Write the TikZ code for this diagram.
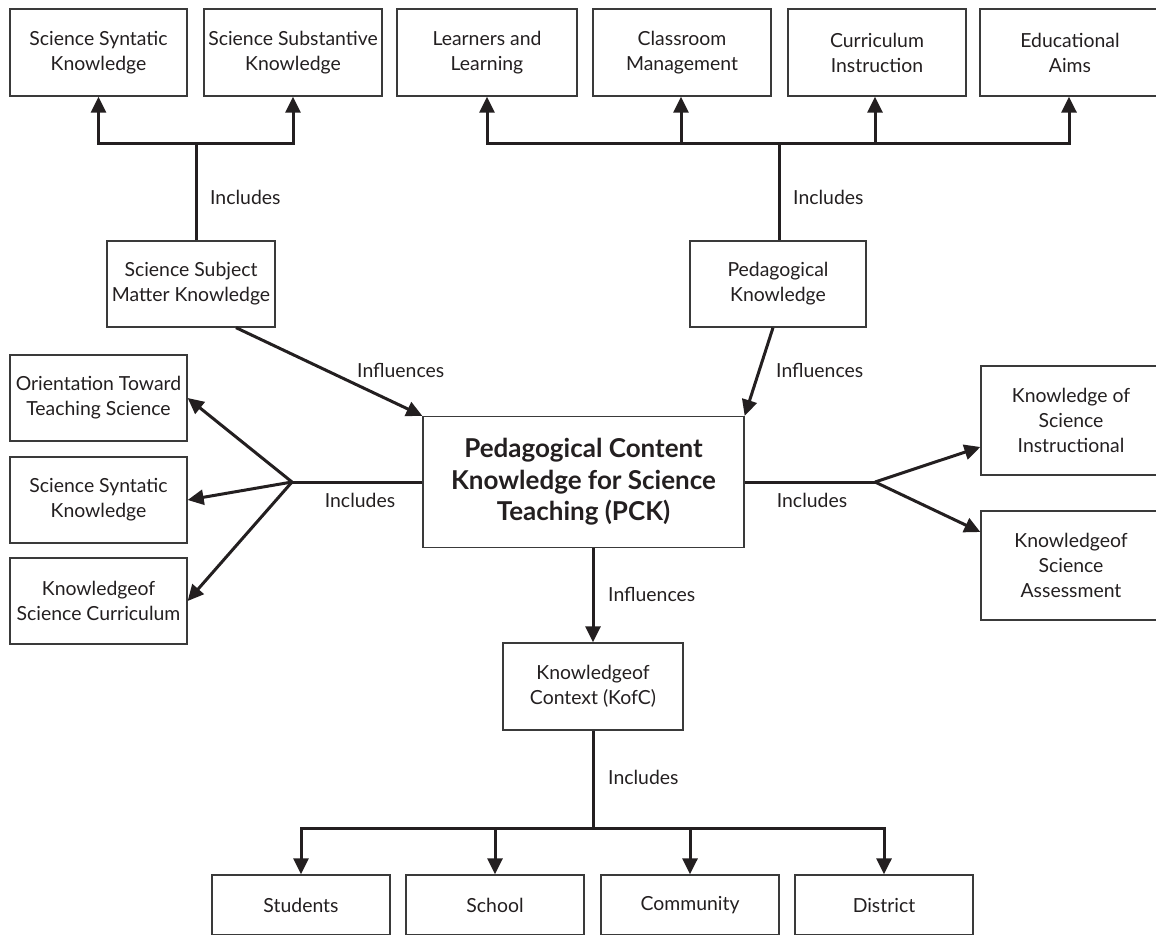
\documentclass[tikz,border=0pt]{standalone}
\usepackage{fontspec}
\setmainfont{Lato}
\usetikzlibrary{arrows.meta,calc}
\definecolor{ink}{HTML}{231F20}
\definecolor{edge}{HTML}{3A3A3A}
\begin{document}
\begin{tikzpicture}[x=1pt,y=-1pt,
  box/.style={draw=edge,line width=1.3pt,inner sep=0pt,align=center,text=ink,
    font=\fontsize{19.4}{25}\selectfont},
  lbl/.style={text=ink,inner sep=0pt,font=\fontsize{19.4}{25}\selectfont},
  conn/.style={draw=ink,line width=3pt},
  arr/.style={conn,-{Triangle[length=16pt,width=15pt]}},
]
\useasboundingbox (0,0) rectangle (1156,934);
% top row
\node[box,minimum width=177pt,minimum height=87pt] (b1) at (98.5,52.5) {Science Syntatic\\Knowledge};
\node[box,minimum width=178pt,minimum height=87pt] (b2) at (293,52.5) {Science Substantive\\Knowledge};
\node[box,minimum width=180pt,minimum height=87pt] (b3) at (487,52.5) {Learners and\\Learning};
\node[box,minimum width=178pt,minimum height=87pt] (b4) at (682,52.5) {Classroom\\Management};
\node[box,minimum width=178pt,minimum height=87pt] (b5) at (877,52.5) {Curriculum\\Instruction};
\node[box,minimum width=180pt,minimum height=87pt] (b6) at (1070,52.5) {Educational\\Aims};
% second row
\node[box,minimum width=168pt,minimum height=86pt] (ssmk) at (191,284) {Science Subject\\Matter Knowledge};
\node[box,minimum width=176pt,minimum height=86pt] (pk) at (778,284) {Pedagogical\\Knowledge};
% center
\node[box,minimum width=321pt,minimum height=131pt,font=\bfseries\fontsize{26}{31.5}\selectfont] (pck) at (583.5,482) {Pedagogical Content\\Knowledge for Science\\Teaching (PCK)};
% left
\node[box,minimum width=177pt,minimum height=86pt] (l1) at (98.5,398) {Orientation Toward\\Teaching Science};
\node[box,minimum width=177pt,minimum height=86pt] (l2) at (98.5,500) {Science Syntatic\\Knowledge};
\node[box,minimum width=177pt,minimum height=86pt] (l3) at (98.5,601) {Knowledgeof\\Science Curriculum};
% right
\node[box,minimum width=180pt,minimum height=109pt] (r1) at (1071,420.5) {Knowledge of\\Science\\Instructional};
\node[box,minimum width=180pt,minimum height=109pt] (r2) at (1071,565.5) {Knowledgeof\\Science\\Assessment};
% context
\node[box,minimum width=180pt,minimum height=87pt] (kofc) at (593,686.5) {Knowledgeof\\Context (KofC)};
\node[box,minimum width=178pt,minimum height=60pt] (s1) at (301,905) {Students};
\node[box,minimum width=178pt,minimum height=60pt] (s2) at (495,905) {School};
\node[box,minimum width=178pt,minimum height=60pt] (s3) at (690,905) {Community};
\node[box,minimum width=178pt,minimum height=60pt] (s4) at (884,905) {District};

% junction and end coordinates
\coordinate (jt1) at (196,143);
\coordinate (jt2) at (779,143);
\coordinate (jl) at (292,482);
\coordinate (jr) at (875,482);
\coordinate (jb) at (593,828);
\coordinate (e4) at ($(b4.south)+(-1,0)$);
\coordinate (e5) at ($(b5.south)+(-2,0)$);
\coordinate (e6) at ($(b6.south)+(-1,0)$);
\coordinate (ssmkout) at ($(ssmk.south)+(45,0)$);
\coordinate (pkout) at ($(pk.south)+(-5,0)$);
\coordinate (r1in) at ($(r1.west)+(0,26.5)$);
\coordinate (r2in) at ($(r2.west)+(0,-33.5)$);

% top-left tree
\draw[conn] (ssmk.north -| jt1) -- (jt1);
\draw[arr] (jt1) -| (b1.south);
\draw[arr] (jt1) -| (b2.south);
\node[lbl,anchor=west] (i1) at (210,197) {Includes};
% top-right tree
\draw[conn] (pk.north -| jt2) -- (jt2);
\draw[arr] (jt2) -| (b3.south);
\draw[arr] (e4 |- jt2) -- (e4);
\draw[arr] (e5 |- jt2) -- (e5);
\draw[arr] (jt2) -| (e6);
\node[lbl,anchor=west] (i2) at (793,197) {Includes};
% influences
\draw[arr] (ssmkout) -- (pck.north west);
\node[lbl,anchor=west] (f1) at (357,370) {Influences};
\draw[arr] (pkout) -- (pck.north east);
\node[lbl,anchor=west] (f2) at (776,370) {Influences};
% left fan
\draw[conn] (pck.west) -- (jl);
\draw[arr] (jl) -- (l1.east);
\draw[arr] (jl) -- (l2.east);
\draw[arr] (jl) -- (l3.east);
\node[lbl] (i3) at (360,500) {Includes};
% right fan
\draw[conn] (pck.east) -- (jr);
\draw[arr] (jr) -- (r1in);
\draw[arr] (jr) -- (r2in);
\node[lbl] (i4) at (812,500) {Includes};
% bottom
\draw[arr] (pck.south -| kofc.north) -- (kofc.north);
\node[lbl,anchor=west] (f3) at (608,594) {Influences};
\draw[conn] (kofc.south) -- (jb);
\draw[arr] (jb) -| (s1.north);
\draw[arr] (jb) -| (s2.north);
\draw[arr] (jb) -| (s3.north);
\draw[arr] (jb) -| (s4.north);
\node[lbl,anchor=west] (i5) at (608,777) {Includes};
\end{tikzpicture}
\end{document}
